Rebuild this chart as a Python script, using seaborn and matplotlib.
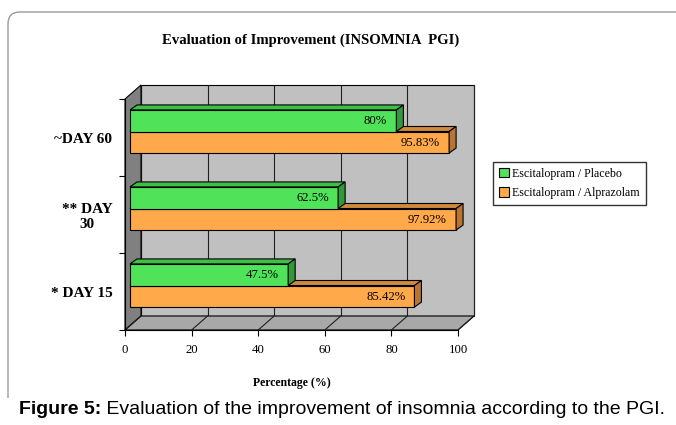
import matplotlib
matplotlib.use("Agg")
import matplotlib.pyplot as plt
import seaborn as sns
import pandas as pd
from matplotlib.patches import Polygon, Rectangle, FancyBboxPatch, Patch
from matplotlib.transforms import ScaledTranslation, IdentityTransform

# ---------------- data ----------------
categories = ["~DAY 60", "** DAY\n30", "* DAY 15"]
series = ["Escitalopram / Placebo", "Escitalopram / Alprazolam"]
placebo = [80, 62.5, 47.5]
alprazolam = [95.83, 97.92, 85.42]
placebo_labels = ["80%", "62.5%", "47.5%"]
alprazolam_labels = ["95.83%", "97.92%", "85.42%"]
x_ticks = [0, 20, 40, 60, 80, 100]
title = "Evaluation of Improvement (INSOMNIA  PGI)"
x_label = "Percentage (%)"
caption_bold = "Figure 5:"
caption_rest = " Evaluation of the improvement of insomnia according to the PGI."

df = pd.DataFrame({
    "Day": categories * 2,
    "Group": [series[0]] * len(categories) + [series[1]] * len(categories),
    "Value": placebo + alprazolam,
})

# ---------------- style ----------------
sns.set_theme(style="white")
plt.rcParams["font.family"] = ["Liberation Serif", "DejaVu Serif"]
plt.rcParams["text.color"] = "black"
plt.rcParams["axes.labelcolor"] = "black"
plt.rcParams["xtick.color"] = "black"
plt.rcParams["ytick.color"] = "black"

face_cols = {series[0]: "#50e35a", series[1]: "#ffa94a"}
top_cols = {series[0]: "#3fbf48", series[1]: "#d08a3c"}
side_cols = {series[0]: "#2f9a37", series[1]: "#b87430"}

W, H = 676, 425
DPI = 100
fig = plt.figure(figsize=(W / DPI, H / DPI), dpi=DPI, facecolor="white")

def fx(px):
    return px / W

def fy(py):
    return 1 - py / H

# front plane of the 3D box
L, R, T, B = 125, 458, 99, 330
ax = fig.add_axes([fx(L), fy(B), (R - L) / W, (B - T) / H])
ax.set_facecolor("none")

sns.barplot(data=df, y="Day", x="Value", hue="Group", order=categories,
            hue_order=series, palette=face_cols, width=0.56, orient="h",
            edgecolor="black", linewidth=0.8, saturation=1, ax=ax, legend=False)

ax.set_xlim(0, 100)
ax.set_ylim(len(categories) - 0.5, -0.5)

# depth offsets (in axes fraction)
wall_dx, wall_dy = 16 / (R - L), 14 / (B - T)
bar_dx_px, bar_dy_px = 5, 6
depth_dx, depth_dy = 7 / (R - L), 5 / (B - T)

shift = ScaledTranslation(bar_dx_px / DPI, bar_dy_px / DPI, fig.dpi_scale_trans)

# walls
ax.add_patch(Rectangle((wall_dx, wall_dy), 1, 1, transform=ax.transAxes,
                       facecolor="#c0c0c0", edgecolor="black", lw=0.8,
                       clip_on=False, zorder=0.5))
ax.add_patch(Polygon([(0, 0), (0, 1), (wall_dx, 1 + wall_dy), (wall_dx, wall_dy)],
                     closed=True, transform=ax.transAxes, facecolor="#808080",
                     edgecolor="black", lw=0.8, clip_on=False, zorder=0.6))
ax.add_patch(Polygon([(0, 0), (1, 0), (1 + wall_dx, wall_dy), (wall_dx, wall_dy)],
                     closed=True, transform=ax.transAxes, facecolor="#a8a8a8",
                     edgecolor="black", lw=0.8, clip_on=False, zorder=0.6))
for t in x_ticks:
    xa = t / 100
    ax.plot([xa + wall_dx, xa + wall_dx], [wall_dy, 1 + wall_dy], color="#202020",
            lw=0.8, transform=ax.transAxes, clip_on=False, zorder=0.55)
    ax.plot([xa, xa + wall_dx], [0, wall_dy], color="#202020", lw=0.8,
            transform=ax.transAxes, clip_on=False, zorder=0.65)

# bars: shift and add depth faces
to_axes = ax.transAxes.inverted()
for i, cont in enumerate(ax.containers):
    name = series[i]
    z = 4 if i == 0 else 3
    for p in cont.patches:
        tr = ax.transData + shift
        p.set_transform(tr)
        p.set_zorder(z)
        x0, y0, w, h = p.get_x(), p.get_y(), p.get_width(), p.get_height()
        c1 = to_axes.transform(tr.transform((x0, y0)))
        c2 = to_axes.transform(tr.transform((x0 + w, y0 + h)))
        xl, xr = min(c1[0], c2[0]), max(c1[0], c2[0])
        yb, yt = min(c1[1], c2[1]), max(c1[1], c2[1])
        ax.add_patch(Polygon([(xl, yt), (xr, yt), (xr + depth_dx, yt + depth_dy),
                              (xl + depth_dx, yt + depth_dy)], closed=True,
                             transform=ax.transAxes, facecolor=top_cols[name],
                             edgecolor="black", lw=0.8, clip_on=False, zorder=z))
        ax.add_patch(Polygon([(xr, yb), (xr, yt), (xr + depth_dx, yt + depth_dy),
                              (xr + depth_dx, yb + depth_dy)], closed=True,
                             transform=ax.transAxes, facecolor=side_cols[name],
                             edgecolor="black", lw=0.8, clip_on=False, zorder=z))

# value labels
for cont, vals, labs in [(ax.containers[0], placebo, placebo_labels),
                         (ax.containers[1], alprazolam, alprazolam_labels)]:
    for p, v, lab in zip(cont.patches, vals, labs):
        yc = p.get_y() + p.get_height() / 2
        ax.annotate(lab, xy=(v, yc), xytext=(-3.0, 4.0), textcoords="offset points",
                    ha="right", va="center", fontsize=9.2, color="black",
                    zorder=6, annotation_clip=False)

# axes styling
for s in ["top", "right"]:
    ax.spines[s].set_visible(False)
for s in ["left", "bottom"]:
    ax.spines[s].set_color("black")
    ax.spines[s].set_linewidth(0.8)
    ax.spines[s].set_zorder(0.7)

ax.set_xticks(x_ticks)
ax.set_xticklabels([str(t) for t in x_ticks], fontsize=9.2)
ax.tick_params(axis="x", bottom=True, length=4, width=0.8, direction="out",
               color="black", pad=6)
ax.set_yticks(range(len(categories)))
ax.set_yticklabels(categories, fontsize=11, fontweight="bold", multialignment="center")
ax.set_yticks([k - 0.5 for k in range(len(categories) + 1)], minor=True)
ax.tick_params(axis="y", which="major", left=True, length=0, pad=9)
ax.tick_params(axis="y", which="minor", left=True, length=4, width=0.8,
               direction="out", color="black")
ax.set_ylabel("")
ax.set_xlabel(x_label, fontsize=8.5, fontweight="bold", labelpad=15)
ax.grid(False)

# legend
handles = [Patch(facecolor=face_cols[s], edgecolor="black", lw=0.8) for s in series]
leg = fig.legend(handles, series, loc="upper left",
                 bbox_to_anchor=(fx(493), fy(162)), bbox_transform=fig.transFigure,
                 fontsize=8.6, frameon=True, fancybox=False, handlelength=0.8,
                 handleheight=0.8, handletextpad=0.3, labelspacing=0.6,
                 borderpad=0.5, borderaxespad=0)
leg.get_frame().set_edgecolor("black")
leg.get_frame().set_linewidth(1.0)

# title
fig.text(fx(311), fy(40), title, ha="center", va="center", fontsize=10.6,
         fontweight="bold")

# outer rounded frame and caption
frame = FancyBboxPatch((8, -60), 760, H - 12 + 60,
                       boxstyle="round,pad=0,rounding_size=12",
                       transform=IdentityTransform(), facecolor="none",
                       edgecolor="#9a9a9a", lw=1.0, zorder=0)
fig.add_artist(frame)
fig.add_artist(Rectangle((0, 0), W, H - 398, transform=IdentityTransform(),
                         facecolor="white", edgecolor="none", zorder=1))

t1 = fig.text(fx(19), fy(410), caption_bold, ha="left", va="center", fontsize=14,
              fontweight="bold", family=["Liberation Sans", "DejaVu Sans"],
              color="black", zorder=2)
renderer = fig.canvas.get_renderer()
bb = t1.get_window_extent(renderer=renderer)
fig.text(bb.x1 / W, fy(410), caption_rest, ha="left", va="center", fontsize=14,
         family=["Liberation Sans", "DejaVu Sans"], color="black", zorder=2)

fig.savefig("out.png", dpi=DPI, facecolor="white")
